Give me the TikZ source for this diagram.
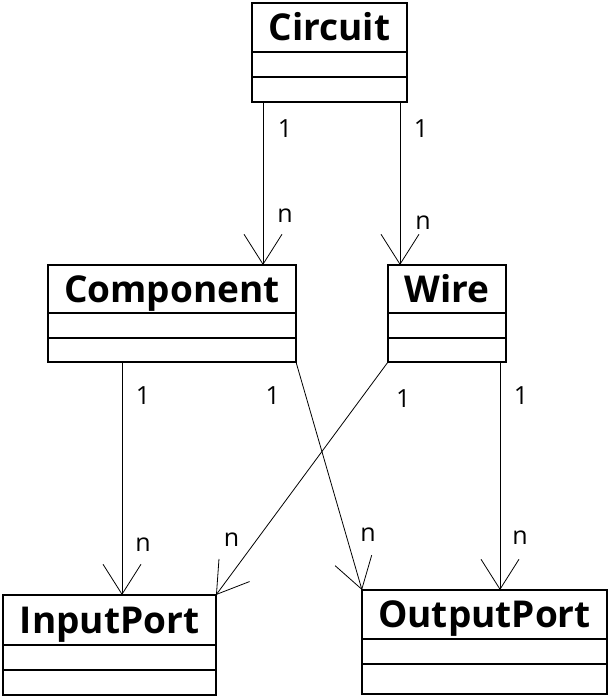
\documentclass[tikz,border=0pt]{standalone}
\usepackage{fontspec}
\setmainfont{Open Sans}
\usetikzlibrary{positioning, arrows.meta}

\begin{document}
\begin{tikzpicture}[x=1pt, y=-1pt,
		title/.style={draw, line width=1.2pt, inner sep=0pt, outer sep=0pt,
			text height=26pt, text depth=0pt,
			font=\fontsize{37}{44}\selectfont\bfseries},
		part/.style={draw, line width=1.2pt, inner sep=0pt, outer sep=0pt},
		assoc/.style={-{Straight Barb[length=30pt,width=38pt]}, line width=0.8pt},
		mult/.style={font=\fontsize{25}{30}\selectfont, inner sep=0pt}
		]
		\useasboundingbox (0,0) rectangle (613,699);
		
		% draw class boxes: title, attributes, operations
		\foreach \name/\cname/\x/\y/\w/\h/\hb in {
			circuit/Circuit/329.5/27.5/155/49/25,
			component/Component/172/289/248/48/24,
			wire/Wire/447/289/118/48/24,
			inputport/InputPort/109.5/620/213/50/25,
			outputport/OutputPort/484.5/614.5/245/49/30} {
			\node[title, minimum width=\w, minimum height=\h] (\name) at (\x, \y) {\cname};
			\node[part, minimum width=\w, minimum height=25, below=0pt of \name] (\name-a) {};
			\node[part, minimum width=\w, minimum height=\hb, below=0pt of \name-a] (\name-b) {};
		}
		
		% draw associations
		\draw[assoc] ([xshift=11pt]circuit-b.south west) -- ([xshift=11pt]circuit-b.south west |- component.north)
			node[mult, pos=.16, xshift=22pt] {1} node[mult, pos=.70, xshift=22pt] {n};
		\draw[assoc] ([xshift=-7pt]circuit-b.south east) -- ([xshift=-7pt]circuit-b.south east |- wire.north)
			node[mult, pos=.16, xshift=21pt] {1} node[mult, pos=.74, xshift=23pt] {n};
		\draw[assoc] ([xshift=74pt]component-b.south west) -- ([xshift=74pt]component-b.south west |- inputport.north)
			node[mult, pos=.146, xshift=21pt] {1} node[mult, pos=.785, xshift=21pt] {n};
		\draw[assoc] (component-b.south east) -- (outputport.north west)
			node[mult, pos=.149, xshift=-33pt] {1} node[mult, pos=.759, xshift=22pt] {n};
		\draw[assoc] (wire-b.south west) -- (inputport.north east)
			node[mult, pos=.155, xshift=42pt] {1} node[mult, pos=.764, xshift=-25pt] {n};
		\draw[assoc] ([xshift=-6pt]wire-b.south east) -- ([xshift=-6pt]wire-b.south east |- outputport.north)
			node[mult, pos=.149, xshift=21pt] {1} node[mult, pos=.772, xshift=20pt] {n};
\end{tikzpicture}
\end{document}
